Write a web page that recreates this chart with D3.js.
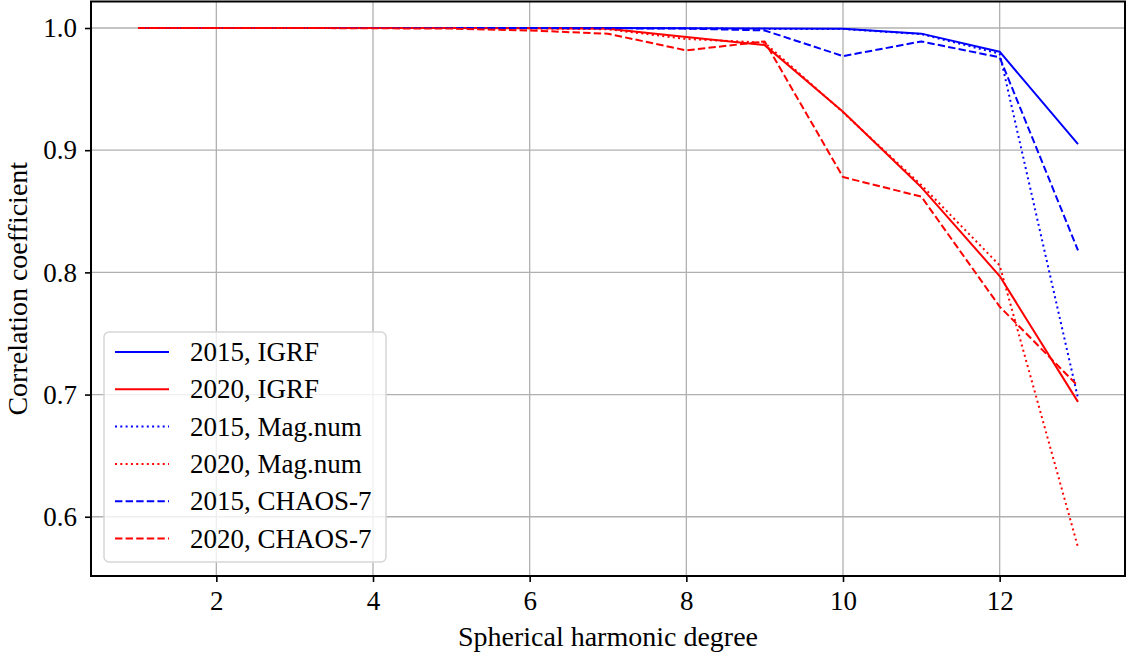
<!doctype html>
<html lang="en">
<head>
<meta charset="utf-8">
<title>Correlation coefficient vs degree</title>
<style>
html, body {
	margin: 0;
	padding: 0;
	background: #fff;
}
svg {
	display: block;
	font-family: 'Liberation Serif', 'DejaVu Serif', serif;
}
.grid line {
	stroke: #b0b0b0;
	stroke-width: 1.3px;
}
.axis {
	font-family: 'Liberation Serif', 'DejaVu Serif', serif;
}
.axis text {
	font-size: 27px;
	fill: #000;
}
.axis path {
	display: none;
}
.axis line {
	stroke: #000;
	stroke-width: 1.6px;
}
.series {
	fill: none;
	stroke-width: 2px;
	stroke-linejoin: round;
}
</style>
</head>
<body>
<div id="chart"></div>
<script src="https://cdnjs.cloudflare.com/ajax/libs/d3/7.8.5/d3.min.js"></script>
<script>
// data
var degrees = [1, 2, 3, 4, 5, 6, 7, 8, 9, 10, 11, 12, 13];

var igrf2015 = [1, 1, 1, 1, 1, 1, 1, 0.9998, 0.9995, 0.9993, 0.9954, 0.9806, 0.905];
var igrf2020 = [1, 1, 1, 1, 1, 0.9998, 0.9993, 0.9926, 0.986, 0.9315, 0.8696, 0.797, 0.694];
var magnum2015 = [1, 1, 1, 1, 1, 1, 1, 0.9997, 0.9993, 0.9992, 0.995, 0.979, 0.697];
var magnum2020 = [1, 1, 1, 1, 1, 0.9997, 0.999, 0.991, 0.988, 0.931, 0.8715, 0.8057, 0.575];
var chaos2015 = [1, 1, 1, 1, 1, 1, 0.9998, 0.9995, 0.998, 0.977, 0.989, 0.976, 0.818];
var chaos2020 = [1, 1, 1, 0.9998, 0.9995, 0.998, 0.9953, 0.9817, 0.989, 0.878, 0.862, 0.772, 0.707];

var seriesNames = ['2015, IGRF', '2020, IGRF', '2015, Mag.num', '2020, Mag.num', '2015, CHAOS-7', '2020, CHAOS-7'];
var seriesValues = [igrf2015, igrf2020, magnum2015, magnum2020, chaos2015, chaos2020];
var seriesColors = ['#0000ff', '#ff0000', '#0000ff', '#ff0000', '#0000ff', '#ff0000'];
var seriesDash = [null, null, '2,3.3', '2,3.3', '7.4,3.2', '7.4,3.2'];

var xTicks = [2, 4, 6, 8, 10, 12];
var yTicks = [0.6, 0.7, 0.8, 0.9, 1.0];

(function () {
	'use strict';

	var W = 1129, H = 659;
	var left = 91, right = 1125, top = 1.5, bottom = 576;

	var svg = d3.select('#chart').append('svg')
		.attr('width', W)
		.attr('height', H);

	// matplotlib style 5% padding
	var xMin = d3.min(degrees), xMax = d3.max(degrees);
	var xPad = (xMax - xMin) * 0.05;
	var x = d3.scaleLinear()
		.domain([xMin - xPad, xMax + xPad])
		.range([left, right]);

	var y = d3.scaleLinear()
		.domain([0.5515, 1.0217])
		.range([bottom, top]);

	// grid
	var grid = svg.append('g').attr('class', 'grid');
	grid.selectAll('.gx').data(xTicks).enter().append('line')
		.attr('x1', x).attr('x2', x)
		.attr('y1', top).attr('y2', bottom);
	grid.selectAll('.gy').data(yTicks).enter().append('line')
		.attr('x1', left).attr('x2', right)
		.attr('y1', y).attr('y2', y);

	// series
	var line = d3.line()
		.x(function (d, i) { return x(degrees[i]); })
		.y(function (d) { return y(d); });

	var plot = svg.append('g');
	seriesValues.forEach(function (vals, i) {
		plot.append('path')
			.attr('class', 'series')
			.attr('d', line(vals))
			.attr('stroke', seriesColors[i])
			.attr('stroke-dasharray', seriesDash[i]);
	});

	// axes
	var xAxis = d3.axisBottom(x)
		.tickValues(xTicks)
		.tickSize(6)
		.tickPadding(9)
		.tickFormat(d3.format('d'));
	svg.append('g')
		.attr('class', 'axis')
		.attr('transform', 'translate(0,' + bottom + ')')
		.call(xAxis)
		.attr('font-family', null);

	var yAxis = d3.axisLeft(y)
		.tickValues(yTicks)
		.tickSize(6)
		.tickPadding(8)
		.tickFormat(d3.format('.1f'));
	svg.append('g')
		.attr('class', 'axis')
		.attr('transform', 'translate(' + left + ',0)')
		.call(yAxis)
		.attr('font-family', null);

	// frame
	svg.append('rect')
		.attr('x', left).attr('y', top)
		.attr('width', right - left).attr('height', bottom - top)
		.attr('fill', 'none')
		.attr('stroke', '#000')
		.attr('stroke-width', 2);

	// axis labels
	svg.append('text')
		.attr('x', (left + right) / 2)
		.attr('y', 646)
		.attr('text-anchor', 'middle')
		.style('font-size', '28px')
		.text('Spherical harmonic degree');

	svg.append('text')
		.attr('transform', 'translate(27,' + ((top + bottom) / 2) + ') rotate(-90)')
		.attr('text-anchor', 'middle')
		.style('font-size', '28px')
		.text('Correlation coefficient');

	// legend
	var lg = svg.append('g').attr('transform', 'translate(104,332)');
	lg.append('rect')
		.attr('width', 282).attr('height', 230)
		.attr('rx', 5).attr('ry', 5)
		.attr('fill', 'rgba(255,255,255,0.8)')
		.attr('stroke', '#d6d6d6')
		.attr('stroke-width', 1.5);

	var rows = lg.selectAll('.row').data(seriesNames).enter().append('g')
		.attr('transform', function (d, i) { return 'translate(0,' + (20 + i * 37.3) + ')'; });
	rows.append('line')
		.attr('x1', 11).attr('x2', 65)
		.attr('stroke', function (d, i) { return seriesColors[i]; })
		.attr('stroke-width', 2)
		.attr('stroke-dasharray', function (d, i) { return seriesDash[i]; });
	rows.append('text')
		.attr('x', 86)
		.attr('y', 9)
		.style('font-size', '27px')
		.text(function (d) { return d; });
})();
</script>
</body>
</html>
